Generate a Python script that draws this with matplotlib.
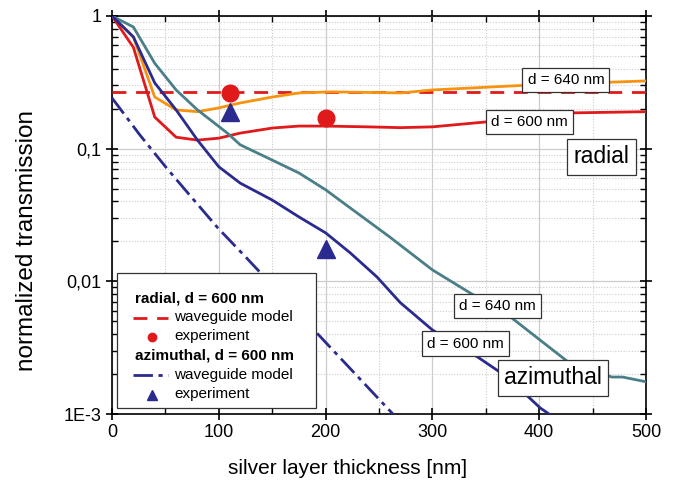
import matplotlib
matplotlib.use("Agg")
import matplotlib.pyplot as plt
from matplotlib.lines import Line2D
from matplotlib.ticker import FixedLocator, LogLocator, NullFormatter, MultipleLocator
from matplotlib.offsetbox import AnchoredOffsetbox, VPacker, HPacker, TextArea, DrawingArea

plt.rcParams["font.family"] = ["Liberation Sans", "DejaVu Sans"]

# radial polarisation, simulated transmission
rad600_x = [0, 20, 40, 60, 80, 100, 120, 150, 175, 200, 240, 270, 300, 350, 430, 500]
rad600_y = [1, 0.58, 0.173, 0.122, 0.116, 0.12, 0.131, 0.143, 0.148, 0.148, 0.146, 0.144, 0.146, 0.159, 0.186, 0.19]
rad640_x = [0, 20, 40, 60, 80, 100, 120, 150, 175, 205, 270, 300, 385, 500]
rad640_y = [1, 0.695, 0.245, 0.196, 0.19, 0.203, 0.221, 0.245, 0.263, 0.268, 0.263, 0.277, 0.30, 0.324]

# azimuthal polarisation, simulated transmission
azi640_x = [0, 20, 40, 60, 80, 108, 120, 150, 175, 200, 213, 260, 300, 335, 373, 401, 429, 468, 478, 500]
azi640_y = [1, 0.826, 0.44, 0.277, 0.196, 0.131, 0.107, 0.082, 0.0656, 0.049, 0.041, 0.0216, 0.0122,
            0.0082, 0.0054, 0.0036, 0.0024, 0.0019, 0.0019, 0.00175]
azi600_x = [0, 20, 40, 60, 80, 100, 120, 150, 175, 200, 223, 248, 270, 300, 342, 370, 401, 410]
azi600_y = [1, 0.695, 0.313, 0.196, 0.116, 0.073, 0.055, 0.041, 0.0306, 0.0232, 0.0164, 0.0108,
            0.0069, 0.0043, 0.0027, 0.0019, 0.00111, 0.00099]

# waveguide model, d = 600 nm
wg_rad_x = [0, 500]
wg_rad_y = [0.267, 0.267]
wg_azi_x = [0, 26, 51, 75, 99, 126, 201, 263]
wg_azi_y = [0.241, 0.127, 0.0716, 0.0425, 0.0253, 0.015, 0.0034, 0.001]

# experiment
exp_rad_x = [110, 200]
exp_rad_y = [0.264, 0.17]
exp_azi_x = [110, 200]
exp_azi_y = [0.19, 0.0175]

RED = "#e0191b"
ORANGE = "#f7930f"
TEAL = "#4a7f88"
BLUE = "#2a2a8f"

fig = plt.figure(figsize=(6.89, 4.92), dpi=100)
ax = fig.add_axes([0.1626, 0.1585, 0.775, 0.809])
ax.set_yscale("log")
ax.set_xlim(0, 500)
ax.set_ylim(1e-3, 1)

ax.grid(True, which="major", color="#cccccc", lw=0.9)
ax.grid(True, which="minor", color="#cccccc", lw=0.8, ls=(0, (1, 1.5)))
ax.set_axisbelow(True)

ax.plot(wg_rad_x, wg_rad_y, color=RED, lw=2, ls=(0, (5, 3.5)), zorder=3)
ax.plot(rad640_x, rad640_y, color=ORANGE, lw=2, zorder=3)
ax.plot(rad600_x, rad600_y, color=RED, lw=2, zorder=3)
ax.plot(azi640_x, azi640_y, color=TEAL, lw=2, zorder=3)
ax.plot(azi600_x, azi600_y, color=BLUE, lw=2, zorder=3)
ax.plot(wg_azi_x, wg_azi_y, color=BLUE, lw=2, ls=(0, (7, 2, 1.5, 2)), zorder=3)
ax.plot(exp_rad_x, exp_rad_y, "o", color=RED, ms=12, zorder=4)
ax.plot(exp_azi_x, exp_azi_y, "^", color=BLUE, ms=13, zorder=4)

box = dict(boxstyle="square,pad=0.33", fc="white", ec="#333333", lw=0.9)
bigbox = dict(boxstyle="square,pad=0.28", fc="white", ec="#333333", lw=0.9)
ax.text(425, 0.327, "d = 640 nm", ha="center", va="center", fontsize=11, bbox=box, zorder=5)
ax.text(391, 0.160, "d = 600 nm", ha="center", va="center", fontsize=11, bbox=box, zorder=5)
ax.text(458, 0.087, "radial", ha="center", va="center", fontsize=16.5, bbox=bigbox, zorder=5)
ax.text(361, 0.0065, "d = 640 nm", ha="center", va="center", fontsize=11, bbox=box, zorder=5)
ax.text(331, 0.0034, "d = 600 nm", ha="center", va="center", fontsize=11, bbox=box, zorder=5)
ax.text(413, 0.00188, "azimuthal", ha="center", va="center", fontsize=16.5, bbox=bigbox, zorder=5)

# ticks
ax.xaxis.set_major_locator(MultipleLocator(100))
ax.xaxis.set_minor_locator(MultipleLocator(50))
ax.yaxis.set_major_locator(FixedLocator([1e-3, 1e-2, 1e-1, 1]))
ax.yaxis.set_minor_locator(LogLocator(base=10, subs=range(2, 10)))
ax.yaxis.set_minor_formatter(NullFormatter())
ax.set_yticklabels(["1E-3", "0,01", "0,1", "1"])
ax.tick_params(which="major", direction="inout", length=8, width=1.2, labelsize=13,
               top=True, right=True)
ax.tick_params(which="minor", direction="in", length=4, width=1, top=True, right=True)
for sp in ax.spines.values():
    sp.set_linewidth(1.2)

ax.set_xlabel("silver layer thickness [nm]", fontsize=15)
ax.xaxis.set_label_coords(0.442, -0.113)
ax.set_ylabel("normalized transmission", fontsize=17.5)
ax.yaxis.set_label_coords(-0.138, 0.437)

# legend
def sample(**kw):
    da = DrawingArea(25, 8, 0, 0)
    if "marker" in kw:
        da.add_artist(Line2D([12], [3.5], **kw))
    else:
        da.add_artist(Line2D([-1.5, 23.5], [3.5, 3.5], **kw))
    return da

fs = dict(fontsize=11)
bold = dict(fontsize=11, weight="bold")
rows = [
    DrawingArea(1, 9.5, 0, 0),
    TextArea("radial, d = 600 nm", textprops=bold),
    HPacker(children=[sample(color=RED, lw=2, ls=(0, (5, 3.5))), TextArea("waveguide model", textprops=fs)], sep=3, align="center"),
    HPacker(children=[sample(marker="o", color=RED, ms=6, ls="none"), TextArea("experiment", textprops=fs)], sep=3, align="center"),
    TextArea("azimuthal, d = 600 nm", textprops=bold),
    HPacker(children=[sample(color=BLUE, lw=2, ls=(0, (7, 2, 1.5, 2))), TextArea("waveguide model", textprops=fs)], sep=3, align="center"),
    HPacker(children=[sample(marker="^", color=BLUE, ms=7, ls="none"), TextArea("experiment", textprops=fs)], sep=3, align="center"),
    DrawingArea(1, 1.5, 0, 0),
]
pack = VPacker(children=rows, align="left", pad=0, sep=3.7)
inner = HPacker(children=[DrawingArea(13, 1, 0, 0), pack, DrawingArea(16, 1, 0, 0)],
                pad=0, sep=0, align="top")
leg = AnchoredOffsetbox(loc="lower left", child=inner, pad=0, frameon=True,
                        bbox_to_anchor=(0.0094, 0.015), bbox_transform=ax.transAxes, borderpad=0)
leg.patch.set_edgecolor("#333333")
leg.patch.set_linewidth(0.9)
leg.zorder = 6
ax.add_artist(leg)

fig.savefig("out.png", dpi=100)
